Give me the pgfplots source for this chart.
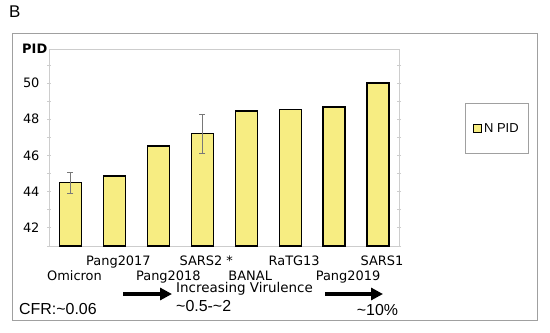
\documentclass[border=0pt]{standalone}
\usepackage{pgfplots}
\pgfplotsset{compat=1.18}
\usepackage{fontspec}
\setmainfont{Liberation Sans}
\newfontfamily\verd{DejaVu Sans}
\usetikzlibrary{arrows.meta}
\definecolor{baryellow}{RGB}{247,237,130}
\definecolor{framegray}{RGB}{160,160,160}
\definecolor{axgray}{RGB}{205,205,205}
\definecolor{errgray}{RGB}{120,120,120}

\begin{document}
\begin{tikzpicture}[x=1bp,y=1bp]
\path[use as bounding box] (0,0) rectangle (550,332);
\draw[framegray, line width=1bp] (12,12) rectangle (537,299);
\node[anchor=base west, inner sep=0, font=\fontsize{17}{20}\selectfont] at (9,315) {B};
\node[anchor=east, inner sep=0, font=\verd\bfseries\fontsize{13}{15}\selectfont] at (47.5,283) {PID};
\begin{axis}[
  at={(49bp,86bp)}, anchor=south west,
  scale only axis, width=350bp, height=197bp,
  xmin=-0.489, xmax=7.478, ymin=41, ymax=51.88,
  axis line style={axgray, line width=0.8bp},
  ybar, bar width=0.5,
  ytick={42,44,...,50}, minor ytick={41,43,...,51},
  ytick pos=both, yticklabel pos=left,
  xtick={0,...,7}, minor xtick={0.5,1.5,...,6.5},
  xtick pos=bottom,
  tick align=center,
  major tick length=4bp, minor tick length=4bp,
  ytick style={axgray, line width=0.8bp},
  minor y tick style={axgray, line width=0.8bp},
  xtick style={draw=none},
  minor x tick style={axgray, line width=0.8bp},
  /pgf/number format/assume math mode=true,
  yticklabel style={font=\verd\fontsize{13}{15}\selectfont, anchor=east, xshift=-4bp},
  xticklabel style={font=\verd\fontsize{13}{15}\selectfont, anchor=base, yshift=-17bp, xshift=4bp},
  xticklabels={\raisebox{-15.5bp}{Omicron}, Pang2017, \raisebox{-15.5bp}{\hspace*{12bp}Pang2018}, SARS2 *, \raisebox{-15.5bp}{BANAL}, RaTG13, \raisebox{-15.5bp}{\hspace*{20bp}Pang2019}, SARS1},
  legend style={at={(1.1886,0.7259)}, anchor=north west, draw=framegray, line width=0.8bp,
    font=\fontsize{13}{15}\selectfont, inner xsep=8bp, inner ysep=18bp, cells={anchor=west}},
  legend image code/.code={\draw[#1, line width=0.7bp] (0bp,-4bp) rectangle (8bp,4bp);},
]
\addplot[fill=baryellow, draw=black, line width=1.2bp, bar shift=0pt] coordinates {
  (0,44.50) (1,44.87) (2,46.52) (3,47.20) (4,48.46) (5,48.54) (6,48.68) (7,50.00)
};
\addlegendentry{N PID}
\addplot[forget plot, draw=none, fill=none, bar shift=0pt,
  error bars/.cd, y dir=both, y explicit,
  error bar style={errgray, line width=0.8bp},
  error mark options={rotate=90, mark size=3bp, errgray, line width=0.8bp}]
  coordinates {
  (0,44.50) +- (0,0.57)
  (3,47.20) +- (0,1.08)
};
\end{axis}
\draw[line width=4bp, -{Triangle[length=12bp,width=12bp]}] (123,38) -- (172,38);
\draw[line width=4bp, -{Triangle[length=12bp,width=12bp]}] (325,38) -- (383,38);
\node[anchor=base west, inner sep=0, font=\verd\fontsize{13.5}{16}\selectfont] at (176,39.5) {Increasing Virulence};
\node[anchor=base west, inner sep=0, font=\fontsize{16}{18}\selectfont] at (19,18) {CFR:\textasciitilde0.06};
\node[anchor=base west, inner sep=0, font=\fontsize{16}{18}\selectfont] at (176,20.3) {\textasciitilde0.5-\textasciitilde2};
\node[anchor=base west, inner sep=0, font=\fontsize{16}{18}\selectfont] at (356.7,17) {\textasciitilde10\%};
\end{tikzpicture}
\end{document}
